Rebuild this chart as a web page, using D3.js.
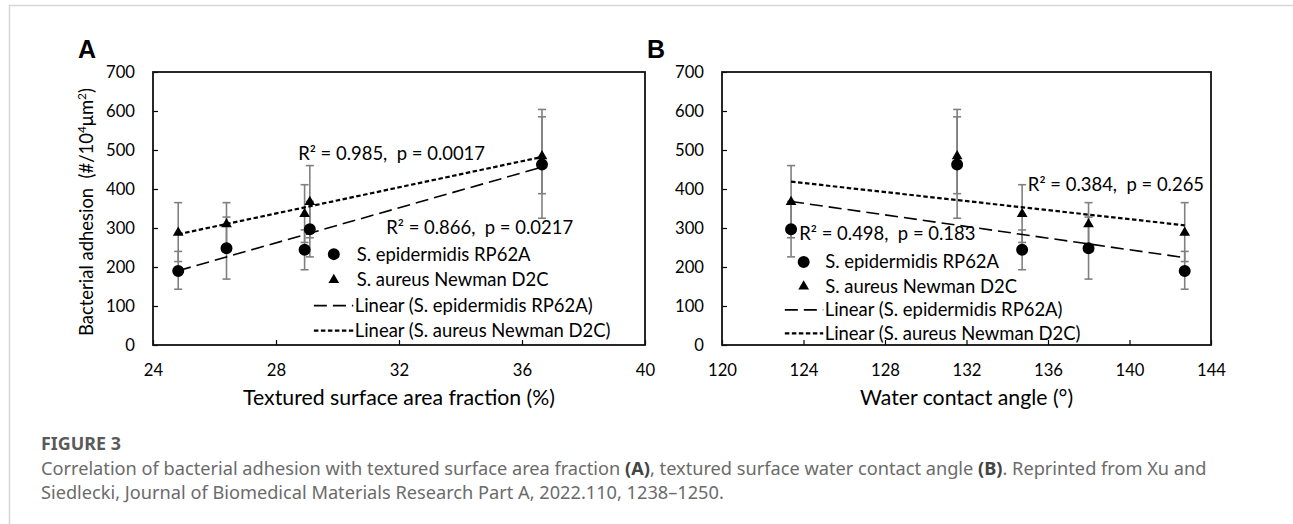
<!DOCTYPE html>
<html>
<head>
<meta charset="utf-8">
<script src="https://cdn.jsdelivr.net/npm/d3@7"></script>
<style>
  body { margin: 0; background: #fff; }
  text { white-space: pre; }
</style>
</head>
<body>
<div id="chart"></div>
<script>
// Samples (same 5 textured surfaces in both panels).
const areaFraction = [24.82, 26.39, 28.93, 29.10, 36.65];      // %
const contactAngle = [142.71, 137.99, 134.73, 123.39, 131.54]; // degrees

// S. epidermidis RP62A
const epiMean    = [190, 248, 244, 297, 463];
const epiErrLow  = [47, 79, 51, 71, 138];
const epiErrHigh = [50, 80, 51, 71, 122];

// S. aureus Newman D2C
const aurMean    = [288, 310, 336, 367, 484];
const aurErrLow  = [74, 55, 73, 92, 96];
const aurErrHigh = [77, 55, 75, 93, 120];

// Ticks.
const yTicks  = [0, 100, 200, 300, 400, 500, 600, 700];
const xTicksA = [24, 28, 32, 36, 40];
const xTicksB = [120, 124, 128, 132, 136, 140, 144];

const legendLabels = ["S. epidermidis RP62A", "S. aureus Newman D2C",
                      "Linear (S. epidermidis RP62A)", "Linear (S. aureus Newman D2C)"];

const statsA = ["R\u00b2 = 0.985,  p = 0.0017", "R\u00b2 = 0.866,  p = 0.0217"];
const statsB = ["R\u00b2 = 0.384,  p = 0.265", "R\u00b2 = 0.498,  p = 0.183"];

const WIDTH = 1293, HEIGHT = 524;
const TOP = 72, BOTTOM = 345;
const FONT = "Lato, 'Noto Sans', sans-serif";

const svg = d3.select("#chart").append("svg")
    .attr("width", WIDTH)
    .attr("height", HEIGHT);

// outer frame of the figure box
svg.append("path")
   .attr("d", "M9.5," + HEIGHT + " V5.5 H" + WIDTH)
   .attr("fill", "none")
   .attr("stroke", "#d6d6d6")
   .attr("stroke-width", 1.5);

function fit(xs, ys) {
    var mx = d3.mean(xs), my = d3.mean(ys);
    var sxy = d3.sum(xs, (x, i) => (x - mx) * (ys[i] - my));
    var sxx = d3.sum(xs, x => (x - mx) * (x - mx));
    var b = sxy / sxx;
    return {slope: b, icpt: my - b * mx};
}

// font size that makes `str` about `target` px wide (Lato stands in for Calibri)
function sizeFor(str, target, family, weight) {
    var t = svg.append("text").attr("font-family", family).attr("font-size", 20)
               .attr("font-weight", weight || "normal").text(str);
    var len = t.node().getComputedTextLength();
    t.remove();
    return 20 * target / len;
}

const TICK_FS   = sizeFor("700", 29, FONT);
const LEGEND_FS = sizeFor(legendLabels[3], 256, FONT);
const TITLE_FS  = sizeFor("Textured surface area fraction (%)", 312, FONT);

var panels = [
  {letter: "A", left: 153, right: 645, domain: [24, 40], ticks: xTicksA, xs: areaFraction,
   title: "Textured surface area fraction (%)", yTitle: true, stats: statsA,
   statPos: [[0.295, 475], [0.474, 284]],
   legend: {mx: 0.3675, tx: 0.414, l0: 0.327, l1: 0.407, rows: [233, 167, 101, 37]}},
  {letter: "B", left: 722, right: 1211, domain: [120, 144], ticks: xTicksB, xs: contactAngle,
   title: "Water contact angle (\u00b0)", yTitle: false, stats: statsB,
   statPos: [[0.6255, 396], [0.158, 269]],
   legend: {mx: 0.167, tx: 0.211, l0: 0.1285, l1: 0.207, rows: [213, 150, 90, 30]}}
];

var y = d3.scaleLinear().domain([0, 700]).range([BOTTOM, TOP]);

panels.forEach(function (p) {
    var x = d3.scaleLinear().domain(p.domain).range([p.left, p.right]);
    var w = p.right - p.left;
    var g = svg.append("g");

    // axes (ticks pointing inward)
    var ya = g.append("g")
        .attr("transform", "translate(" + p.left + ",0)")
        .call(d3.axisLeft(y).tickValues(yTicks).tickSizeInner(-5).tickSizeOuter(0).tickPadding(18));
    var xa = g.append("g")
        .attr("transform", "translate(0," + BOTTOM + ")")
        .call(d3.axisBottom(x).tickValues(p.ticks).tickSizeInner(-5).tickSizeOuter(0).tickPadding(19));
    [ya, xa].forEach(function (a) {
        a.select(".domain").remove();
        a.selectAll(".tick line").attr("stroke", "#000").attr("stroke-width", 1.2);
        a.selectAll(".tick text").attr("font-family", FONT).attr("font-size", TICK_FS).attr("fill", "#000");
    });

    g.append("rect")
     .attr("x", p.left).attr("y", TOP)
     .attr("width", w).attr("height", BOTTOM - TOP)
     .attr("fill", "none").attr("stroke", "#111").attr("stroke-width", 1.8);

    // axis titles
    g.append("text")
     .attr("x", p.left + w / 2).attr("y", BOTTOM + 60)
     .attr("text-anchor", "middle")
     .attr("font-family", FONT).attr("font-size", TITLE_FS)
     .text(p.title);

    if (p.yTitle) {
        var t = g.append("text")
            .attr("transform", "translate(93,212) rotate(-90)")
            .attr("text-anchor", "middle")
            .attr("font-family", FONT).attr("font-size", LEGEND_FS);
        t.append("tspan").text("Bacterial adhesion  (#/10");
        t.append("tspan").attr("font-size", "0.65em").attr("dy", "-0.6em").text("4");
        t.append("tspan").attr("dy", "0.39em").text("\u03bcm");
        t.append("tspan").attr("font-size", "0.65em").attr("dy", "-0.6em").text("2");
        t.append("tspan").attr("dy", "0.39em").text(")");
    }

    g.append("text")
     .attr("x", p.left - 75).attr("y", 58)
     .attr("font-family", "Arial, 'Liberation Sans', sans-serif")
     .attr("font-weight", "bold").attr("font-size", 25)
     .text(p.letter);

    var series = [
      {mean: epiMean, lo: epiErrLow, hi: epiErrHigh, dash: "13,6", sw: 1.6, sym: d3.symbolCircle, size: 113},
      {mean: aurMean, lo: aurErrLow, hi: aurErrHigh, dash: "4.5,2.5", sw: 2.2, sym: d3.symbolTriangle, size: 50}
    ];

    // error bars
    series.forEach(function (s) {
        var eb = g.append("g").attr("stroke", "#808080").attr("stroke-width", 1.6);
        p.xs.forEach(function (xv, i) {
            var cx = x(xv), y0 = y(s.mean[i] - s.lo[i]), y1 = y(s.mean[i] + s.hi[i]);
            eb.append("line").attr("x1", cx).attr("x2", cx).attr("y1", y0).attr("y2", y1);
            eb.append("line").attr("x1", cx - 4).attr("x2", cx + 4).attr("y1", y0).attr("y2", y0);
            eb.append("line").attr("x1", cx - 4).attr("x2", cx + 4).attr("y1", y1).attr("y2", y1);
        });
    });

    // trend lines (least squares over the points)
    series.forEach(function (s) {
        var f = fit(p.xs, s.mean);
        var ext = d3.extent(p.xs);
        g.append("line")
         .attr("x1", x(ext[0])).attr("y1", y(f.slope * ext[0] + f.icpt))
         .attr("x2", x(ext[1])).attr("y2", y(f.slope * ext[1] + f.icpt))
         .attr("stroke", "#000").attr("stroke-width", s.sw)
         .attr("stroke-dasharray", s.dash);
    });

    series.forEach(function (s) {
        g.selectAll(null).data(p.xs).enter().append("path")
         .attr("d", d3.symbol(s.sym, s.size))
         .attr("transform", (d, i) => "translate(" + x(d) + "," + y(s.mean[i]) + ")")
         .attr("fill", "#000");
    });

    // regression stats
    p.stats.forEach(function (txt, i) {
        g.append("text")
         .attr("x", p.left + p.statPos[i][0] * w)
         .attr("y", y(p.statPos[i][1]))
         .attr("font-family", FONT).attr("font-size", LEGEND_FS)
         .text(txt);
    });

    // legend
    var L = p.legend;
    L.rows.forEach(function (v, i) {
        var ry = y(v);
        if (i < 2) {
            g.append("path")
             .attr("d", d3.symbol(series[i].sym, series[i].size))
             .attr("transform", "translate(" + (p.left + L.mx * w) + "," + ry + ")");
        } else {
            g.append("line")
             .attr("x1", p.left + L.l0 * w).attr("x2", p.left + L.l1 * w)
             .attr("y1", ry).attr("y2", ry)
             .attr("stroke", "#000").attr("stroke-width", series[i - 2].sw)
             .attr("stroke-dasharray", series[i - 2].dash);
        }
        g.append("text")
         .attr("x", p.left + (i < 2 ? L.tx : L.l1 + 0.003) * w)
         .attr("y", ry).attr("dy", "0.35em")
         .attr("font-family", FONT).attr("font-size", LEGEND_FS)
         .text(legendLabels[i]);
    });
});

// caption
const CAP_FONT = "'Noto Sans', 'Open Sans', sans-serif";
const capLine1 = ["Correlation of bacterial adhesion with textured surface area fraction ", "(A)",
                  ", textured surface water contact angle ", "(B)", ". Reprinted from Xu and"];
const capLine2 = "Siedlecki, Journal of Biomedical Materials Research Part A, 2022.110, 1238\u20131250.";

var cap = svg.append("g").attr("font-family", CAP_FONT).attr("fill", "#6b6b6b");
cap.append("text").attr("x", 41).attr("y", 450)
   .attr("font-weight", "bold").attr("fill", "#5a5a5a")
   .attr("font-size", sizeFor("FIGURE 3", 80, CAP_FONT, "bold"))
   .text("FIGURE 3");
var l1 = cap.append("text").attr("x", 41).attr("y", 475).attr("font-size", 17);
capLine1.forEach(function (s, i) {
    var ts = l1.append("tspan").text(s);
    if (i % 2 === 1) ts.attr("font-weight", "bold").attr("fill", "#444");
});
var capFs = 17 * 1166 / l1.node().getComputedTextLength();
l1.attr("font-size", capFs);
cap.append("text").attr("x", 41).attr("y", 499).attr("font-size", capFs).text(capLine2);
</script>
</body>
</html>
